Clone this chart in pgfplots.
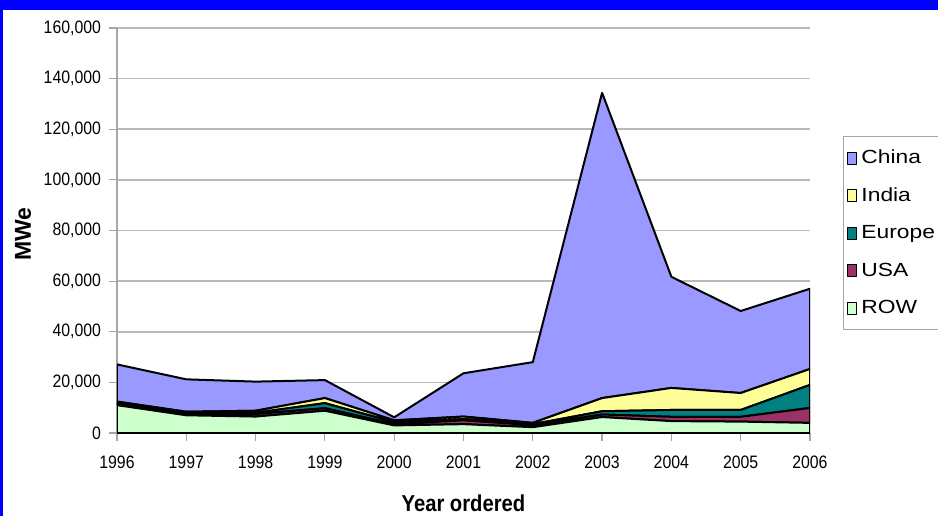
\documentclass[border=0pt]{standalone}
\usepackage{pgfplots}
\pgfplotsset{compat=1.18}
\usepackage{fontspec}
\setmainfont{Liberation Sans}
\newfontfamily\narrowfont[FakeStretch=0.88]{Liberation Sans}
\newfontfamily\widefont[FakeStretch=1.2]{Liberation Sans}
\definecolor{cchina}{HTML}{9999FF}
\definecolor{cindia}{HTML}{FFFF99}
\definecolor{ceurope}{HTML}{008080}
\definecolor{cusa}{HTML}{993366}
\definecolor{crow}{HTML}{CCFFCC}
\definecolor{cframe}{HTML}{0000FF}
\begin{document}
\begin{tikzpicture}[x=1pt,y=1pt]
\path[use as bounding box] (0,0) rectangle (469,258);
\fill[cframe] (0,0) rectangle (469,258);
\fill[white] (1.5,0) rectangle (469,253);
\begin{axis}[
  /pgf/number format/assume math mode=true,
  at={(58.5pt,41.5pt)}, anchor=south west,
  scale only axis, width=346.5pt, height=202.5pt,
  xmin=1996, xmax=2006, ymin=0, ymax=160000,
  xtick={1996,1997,...,2006}, ytick={0,20000,...,160000},
  xticklabels={1996,1997,1998,1999,2000,2001,2002,2003,2004,2005,2006},
  yticklabels={0,{20,000},{40,000},{60,000},{80,000},{100,000},{120,000},{140,000},{160,000}},
  axis x line*=bottom, axis y line*=left,
  axis line style={gray!70,-,line width=0.8pt},
  ymajorgrids, grid style={gray!55,line width=0.8pt},
  tick align=outside, major tick length=4pt, tick style={gray!70,line width=0.6pt},
  scaled y ticks=false,
  xticklabel style={font=\narrowfont\fontsize{9}{10}\selectfont,yshift=-4pt},
  yticklabel style={font=\narrowfont\fontsize{9}{10}\selectfont,xshift=-0.5pt},
  xlabel={Year ordered},
  xlabel style={font=\narrowfont\bfseries\fontsize{11.5}{12}\selectfont,at={(axis description cs:0.5,-0.173)},anchor=center},
  ylabel={MWe},
  ylabel style={font=\bfseries\fontsize{11.5}{12}\selectfont,at={(axis description cs:-0.1356,0.491)},anchor=center},
  stack plots=y,
  every axis plot/.append style={draw=black,line width=1pt,line join=round},
  legend style={at={(axis description cs:1.0476,0.733)},anchor=north west,
    draw=gray!70,line width=0.5pt,font=\widefont\fontsize{9.5}{10}\selectfont,
    row sep=6.6pt,inner xsep=2pt,inner ysep=4.5pt,cells={anchor=west}},
  legend image code/.code={\draw[#1,draw=black,line width=0.5pt] (0.5pt,-3pt) rectangle (5pt,3pt);},
  reverse legend,
]
\addplot[fill=crow] coordinates {(1996,11000)(1997,7000)(1998,6500)(1999,8800)(2000,3000)(2001,3500)(2002,2300)(2003,6300)(2004,4700)(2005,4500)(2006,4000)} \closedcycle;
\addlegendentry{ROW}
\addplot[fill=cusa] coordinates {(1996,500)(1997,500)(1998,1000)(1999,1000)(2000,500)(2001,1500)(2002,800)(2003,1000)(2004,1700)(2005,1900)(2006,5900)} \closedcycle;
\addlegendentry{USA}
\addplot[fill=ceurope] coordinates {(1996,400)(1997,400)(1998,500)(1999,2000)(2000,800)(2001,500)(2002,400)(2003,1300)(2004,2700)(2005,2700)(2006,9100)} \closedcycle;
\addlegendentry{Europe}
\addplot[fill=cindia] coordinates {(1996,500)(1997,500)(1998,800)(1999,2000)(2000,700)(2001,1000)(2002,500)(2003,5200)(2004,8700)(2005,6700)(2006,6300)} \closedcycle;
\addlegendentry{India}
\addplot[fill=cchina] coordinates {(1996,14700)(1997,12800)(1998,11500)(1999,7100)(2000,1200)(2001,17100)(2002,24000)(2003,120600)(2004,43900)(2005,32400)(2006,31700)} \closedcycle;
\addlegendentry{China}
\end{axis}
\end{tikzpicture}
\end{document}
